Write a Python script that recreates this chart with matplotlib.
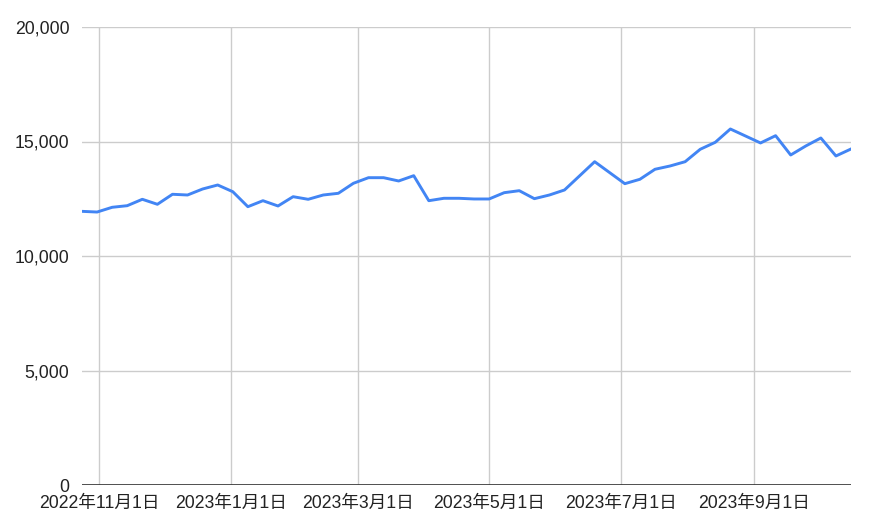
import matplotlib
matplotlib.use("Agg")
import matplotlib.pyplot as plt
import matplotlib.dates as mdates
import numpy as np
import pandas as pd

plt.rcParams['font.family'] = ['Liberation Sans', 'Noto Sans CJK JP', 'DejaVu Sans']

start_date = "2022-10-24"
values = [11950, 11920, 12127, 12197, 12476, 12258, 12695, 12664, 12926, 13101,
          12808, 12153, 12415, 12184, 12590, 12476, 12664, 12738, 13175, 13420,
          13420, 13276, 13507, 12415, 12520, 12520, 12490, 12490, 12765, 12852,
          12503, 12664, 12883, 13500, 14118, 13638, 13158, 13350, 13787, 13931,
          14118, 14660, 14966, 15546, 15241, 14936, 15254, 14411, 14804, 15153,
          14368, 14673]
tick_dates = ["2022-11-01", "2023-01-01", "2023-03-01", "2023-05-01", "2023-07-01", "2023-09-01"]
tick_labels = ["2022年11月1日", "2023年1月1日", "2023年3月1日", "2023年5月1日", "2023年7月1日", "2023年9月1日"]
y_ticks = [0, 5000, 10000, 15000, 20000]
y_tick_labels = ["0", "5,000", "10,000", "15,000", "20,000"]

dates = pd.date_range(start_date, periods=len(values), freq="7D")

fig = plt.figure(figsize=(8.7, 5.28), dpi=100)
ax = fig.add_axes([82/870, 1-485/528, (851-82)/870, (485-27)/528])

ax.plot(dates, values, color="#4285F4", linewidth=2.1, solid_joinstyle="round", zorder=3)

ax.set_xlim(dates[0], dates[-1])
ax.set_ylim(0, 20000)
ax.set_yticks(y_ticks)
ax.set_yticklabels(y_tick_labels)
ax.set_xticks(pd.to_datetime(tick_dates))
ax.set_xticklabels(tick_labels)

ax.grid(True, color="#cccccc", linewidth=1.0, zorder=0)
ax.axhline(0, color="#333333", linewidth=1.2, zorder=4)
for s in ["top", "right", "left", "bottom"]:
    ax.spines[s].set_visible(False)
ax.tick_params(axis="both", length=0, labelsize=12.7, colors="#222222")
ax.tick_params(axis="y", pad=9)
ax.tick_params(axis="x", pad=7)

fig.savefig("out.png", dpi=100)
